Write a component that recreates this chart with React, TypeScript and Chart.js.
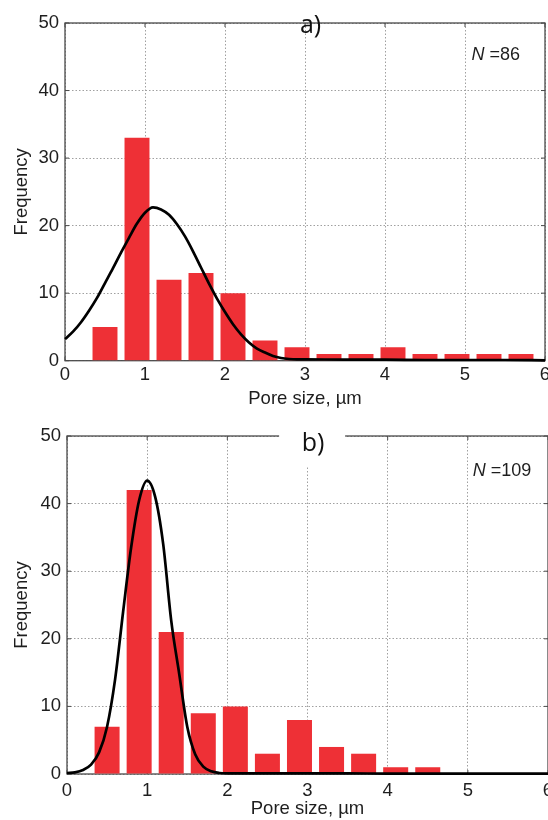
import React, { useEffect, useRef } from 'react';
import { Chart, registerables } from 'chart.js';

Chart.register(...registerables);

// ---- data ----
const binCentersA = [0.5, 0.9, 1.3, 1.7, 2.1, 2.5, 2.9, 3.3, 3.7, 4.1, 4.5, 4.9, 5.3, 5.7];
const countsA = [5, 33, 12, 13, 10, 3, 2, 1, 1, 2, 1, 1, 1, 1];
const fitXA = [0, 0.1, 0.2, 0.3, 0.4, 0.5, 0.6, 0.7, 0.8, 0.9, 1.0, 1.1, 1.2, 1.3, 1.4, 1.5, 1.6, 1.7, 1.8, 1.9, 2.0, 2.1, 2.2, 2.3, 2.4, 2.5, 2.6, 2.7, 2.8, 2.9, 3.0, 3.5, 4.0, 4.5, 5.0, 5.5, 6.0];
const fitYA = [3.2, 4.3, 5.7, 7.4, 9.3, 11.5, 13.7, 16.0, 18.2, 20.3, 21.9, 22.7, 22.4, 21.6, 20.2, 18.4, 16.2, 13.8, 11.4, 9.2, 7.2, 5.4, 3.9, 2.7, 1.8, 1.2, 0.7, 0.4, 0.25, 0.2, 0.2, 0.15, 0.15, 0.1, 0.1, 0.1, 0.05];

const binCentersB = [0.5, 0.9, 1.3, 1.7, 2.1, 2.5, 2.9, 3.3, 3.7, 4.1, 4.5];
const countsB = [7, 42, 21, 9, 10, 3, 8, 4, 3, 1, 1];
const fitXB = [0, 0.1, 0.2, 0.3, 0.4, 0.5, 0.6, 0.7, 0.8, 0.9, 1.0, 1.1, 1.2, 1.3, 1.4, 1.5, 1.6, 1.7, 1.8, 1.9, 2.0, 2.5, 3.0, 3.5, 4.0, 4.5, 5.0, 5.5, 6.0];
const fitYB = [0.15, 0.25, 0.6, 1.4, 3.2, 7.0, 14.0, 24.0, 33.5, 40.5, 43.4, 41.0, 34.0, 22.7, 14.8, 7.0, 2.9, 1.1, 0.4, 0.15, 0.1, 0.1, 0.1, 0.1, 0.05, 0.05, 0.05, 0.05, 0.05];

const xMin = 0;
const xMax = 6;
const xStep = 1;
const yMin = 0;
const yMax = 50;
const yStep = 10;
const xTitle = 'Pore size, µm';
const yTitle = 'Frequency';
const panelLabels = ['a)', 'b)'];
const sampleSizes = [86, 109];

const TICK_FONT = '"Liberation Sans", Arial, sans-serif';
const LABEL_FONT = '"Open Sans", "Noto Sans", sans-serif';
const BAR_COLOR = '#ee3036';
const FONT_SIZE = 18.5;

type PanelCfg = {
  centers: number[];
  counts: number[];
  fitX: number[];
  fitY: number[];
  label: string;
  n: number;
  boxed: boolean;
  padTop: number;
  padRight: number;
  yWidth: number;
  xHeight: number;
  xTickPad: number;
  labelBaseline: number;
  nAt: [number, number];
};

const decorPlugin = {
  id: 'panelDecor',
  beforeDatasetsDraw(chart: any) {
    const { ctx, chartArea, scales } = chart;
    const { left, right, top, bottom } = chartArea;
    const x = scales.x;
    const y = scales.y;
    ctx.save();
    ctx.strokeStyle = '#4a4a4a';
    ctx.lineWidth = 1.3;
    ctx.strokeRect(left, top, right - left, bottom - top);
    ctx.lineWidth = 1;
    ctx.beginPath();
    x.ticks.forEach((t: any) => {
      const px = x.getPixelForValue(t.value);
      ctx.moveTo(px, bottom);
      ctx.lineTo(px, bottom - 4);
      ctx.moveTo(px, top);
      ctx.lineTo(px, top + 4);
    });
    y.ticks.forEach((t: any) => {
      const py = y.getPixelForValue(t.value);
      ctx.moveTo(left, py);
      ctx.lineTo(left + 4, py);
      ctx.moveTo(right, py);
      ctx.lineTo(right - 4, py);
    });
    ctx.stroke();
    ctx.restore();
  },
  afterDraw(chart: any, _args: any, opts: any) {
    const { ctx, chartArea, scales } = chart;
    const x = scales.x;
    const y = scales.y;
    ctx.save();
    // sample size
    const nx = x.getPixelForValue(opts.nAt[0]);
    const ny = y.getPixelForValue(opts.nAt[1]);
    ctx.fillStyle = '#1e1e1e';
    ctx.textBaseline = 'middle';
    ctx.textAlign = 'left';
    ctx.font = `italic 18px ${TICK_FONT}`;
    ctx.fillText('N', nx, ny);
    const w = ctx.measureText('N').width;
    ctx.font = `18px ${TICK_FONT}`;
    ctx.fillText(` =${opts.n}`, nx + w, ny);
    // panel label
    const cx = x.getPixelForValue(3.07);
    if (opts.boxed) {
      ctx.fillStyle = '#ffffff';
      ctx.fillRect(cx - 34, chartArea.top - 4, 66, 35);
    }
    ctx.fillStyle = '#111';
    ctx.textAlign = 'center';
    ctx.textBaseline = 'alphabetic';
    ctx.font = `25px ${LABEL_FONT}`;
    ctx.fillText(opts.label, cx, opts.labelBaseline);
    ctx.restore();
  },
};

const panels: PanelCfg[] = [
  {
    centers: binCentersA,
    counts: countsA,
    fitX: fitXA,
    fitY: fitYA,
    label: panelLabels[0],
    n: sampleSizes[0],
    boxed: false,
    padTop: 23,
    padRight: 3,
    yWidth: 65,
    xHeight: 49.3,
    xTickPad: 3,
    labelBaseline: 33,
    nAt: [5.08, 45.2],
  },
  {
    centers: binCentersB,
    counts: countsB,
    fitX: fitXB,
    fitY: fitYB,
    label: panelLabels[1],
    n: sampleSizes[1],
    boxed: true,
    padTop: 26,
    padRight: 0,
    yWidth: 67,
    xHeight: 46,
    xTickPad: 5.5,
    labelBaseline: 41,
    nAt: [5.06, 44.8],
  },
];

function Panel({ cfg }: { cfg: PanelCfg }) {
  const ref = useRef<HTMLCanvasElement>(null);
  useEffect(() => {
    const canvas = ref.current;
    if (!canvas) return;
    const chart = new Chart(canvas, {
      type: 'bar',
      data: {
        datasets: [
          {
            type: 'line',
            data: cfg.fitX.map((v, i) => ({ x: v, y: cfg.fitY[i] })),
            borderColor: '#000000',
            borderWidth: 2.7,
            pointRadius: 0,
            cubicInterpolationMode: 'monotone',
            fill: false,
            clip: false,
            order: 0,
          } as any,
          {
            type: 'bar',
            data: cfg.centers.map((v, i) => ({ x: v, y: cfg.counts[i] })),
            backgroundColor: BAR_COLOR,
            borderWidth: 0,
            barPercentage: 0.78,
            categoryPercentage: 1,
            order: 1,
          } as any,
        ],
      },
      options: {
        responsive: false,
        animation: false,
        layout: { padding: { top: cfg.padTop, right: cfg.padRight, left: 0, bottom: 0 } },
        plugins: {
          legend: { display: false },
          tooltip: { enabled: false },
          panelDecor: { label: cfg.label, n: cfg.n, boxed: cfg.boxed, labelBaseline: cfg.labelBaseline, nAt: cfg.nAt },
        } as any,
        scales: {
          x: {
            type: 'linear',
            min: xMin,
            max: xMax,
            offset: false,
            grid: { offset: false, color: '#a0a0a0', lineWidth: 1, drawTicks: false },
            border: { display: false, dash: [1.5, 2] },
            ticks: { stepSize: xStep, padding: cfg.xTickPad, color: '#1e1e1e', font: { family: TICK_FONT, size: FONT_SIZE }, maxRotation: 0 },
            title: { display: true, text: xTitle, color: '#1e1e1e', font: { family: TICK_FONT, size: FONT_SIZE }, padding: { top: 0, bottom: 0 } },
            afterFit: (s: any) => {
              s.height = cfg.xHeight;
              s.paddingLeft = 0;
              s.paddingRight = 0;
            },
          },
          y: {
            type: 'linear',
            min: yMin,
            max: yMax,
            grid: { color: '#a0a0a0', lineWidth: 1, drawTicks: false },
            border: { display: false, dash: [1.5, 2] },
            ticks: { stepSize: yStep, padding: 6, color: '#1e1e1e', font: { family: TICK_FONT, size: FONT_SIZE } },
            title: { display: true, text: yTitle, color: '#1e1e1e', font: { family: TICK_FONT, size: FONT_SIZE }, padding: { top: 10.4, bottom: 0 } },
            afterFit: (s: any) => {
              s.width = cfg.yWidth;
              s.paddingTop = 0;
              s.paddingBottom = 0;
            },
          },
        },
      } as any,
      plugins: [decorPlugin as any],
    });
    return () => chart.destroy();
  }, [cfg]);
  return <canvas ref={ref} width={548} height={410} style={{ display: 'block', width: 548, height: 410 }} />;
}

export default function App() {
  return (
    <div style={{ position: 'absolute', left: 0, top: 0, width: 548, height: 820, background: '#ffffff' }}>
      {panels.map((p, i) => (
        <Panel key={i} cfg={p} />
      ))}
    </div>
  );
}
